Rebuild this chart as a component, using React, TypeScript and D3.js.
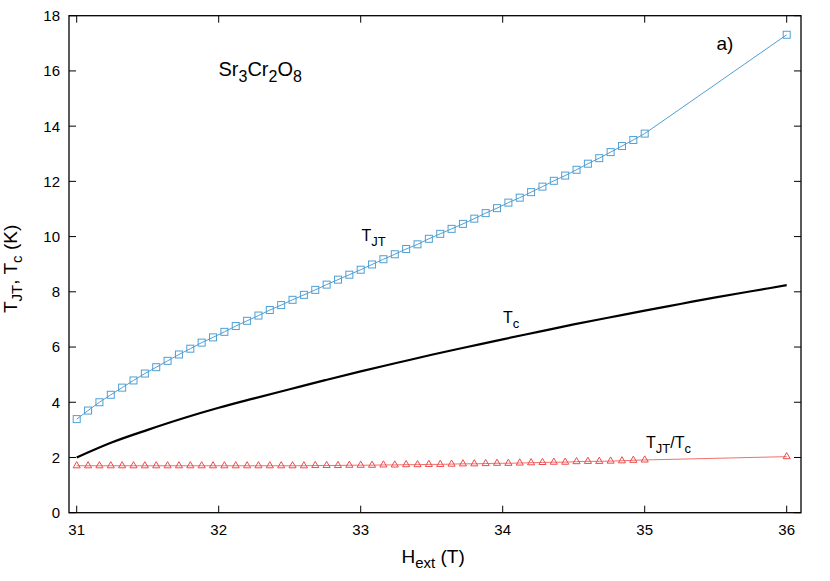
import React from "react";
import * as d3 from "d3";

// H values (T) for the dense sampled points: 31 to 35 step 0.08, plus 36
const hDense: number[] = Array.from({ length: 51 }, (_, i) => +(31 + 0.08 * i).toFixed(2));
const hValues: number[] = [...hDense, 36];

// T_JT (K)
const tjtValues: number[] = [
  3.39, 3.70, 4.00, 4.27, 4.53, 4.79, 5.04, 5.27, 5.50, 5.73,
  5.94, 6.16, 6.35, 6.55, 6.76, 6.95, 7.14, 7.34, 7.52, 7.71,
  7.89, 8.07, 8.26, 8.44, 8.62, 8.80, 8.99, 9.18, 9.36, 9.55,
  9.72, 9.92, 10.10, 10.28, 10.46, 10.65, 10.85, 11.03, 11.23, 11.41,
  11.61, 11.81, 12.02, 12.21, 12.42, 12.64, 12.84, 13.06, 13.28, 13.50,
  13.73, 17.31,
];

// T_JT / T_c
const ratioValues: number[] = [
  1.70, 1.70, 1.70, 1.70, 1.70, 1.70, 1.70, 1.70, 1.70, 1.70,
  1.70, 1.70, 1.70, 1.70, 1.70, 1.70, 1.70, 1.70, 1.70, 1.70,
  1.70, 1.71, 1.71, 1.71, 1.72, 1.72, 1.72, 1.73, 1.73, 1.74,
  1.74, 1.75, 1.75, 1.76, 1.77, 1.77, 1.78, 1.79, 1.79, 1.80,
  1.81, 1.82, 1.83, 1.83, 1.85, 1.86, 1.86, 1.87, 1.88, 1.90,
  1.91, 2.03,
];

// T_c curve (K)
const tcH: number[] = [31, 31.25, 31.5, 31.75, 32, 32.25, 32.5, 32.75, 33, 33.25, 33.5, 33.75, 34, 34.25, 34.5, 34.75, 35, 35.25, 35.5, 35.75, 36];
const tcValues: number[] = [2.0, 2.55, 3.0, 3.42, 3.8, 4.14, 4.47, 4.8, 5.12, 5.42, 5.72, 6.0, 6.28, 6.55, 6.82, 7.07, 7.32, 7.56, 7.8, 8.02, 8.24];

const xTicks: number[] = [31, 32, 33, 34, 35, 36];
const yTicks: number[] = [0, 2, 4, 6, 8, 10, 12, 14, 16, 18];

const W = 830;
const H = 581;
const plotLeft = 69;
const plotRight = 801;
const plotTop = 15.7;
const plotBottom = 512.7;

const BLUE = "#4f9fd4";
const RED = "#ee4a4a";
const FONT = "'Liberation Sans', Arial, Helvetica, sans-serif";

export default function App() {
  const x = d3.scaleLinear().domain([31, 36]).range([76.7, 786.7]);
  const y = d3.scaleLinear().domain([0, 18]).range([plotBottom, plotTop]);

  const lineGen = d3
    .line<[number, number]>()
    .x((d) => x(d[0]))
    .y((d) => y(d[1]));
  const smoothGen = d3
    .line<[number, number]>()
    .x((d) => x(d[0]))
    .y((d) => y(d[1]))
    .curve(d3.curveMonotoneX);

  const tjtPts: [number, number][] = hValues.map((h, i) => [h, tjtValues[i]]);
  const ratioPts: [number, number][] = hValues.map((h, i) => [h, ratioValues[i]]);
  const tcPts: [number, number][] = tcH.map((h, i) => [h, tcValues[i]]);

  const sq = 7;
  const tri = d3.symbol().type(d3.symbolTriangle).size(22)();

  const tickLen = 7;

  return (
    <svg
      width={W}
      height={H}
      style={{ position: "absolute", left: 0, top: 0, background: "#fff" }}
      fontFamily={FONT}
    >
      <rect x={0} y={0} width={W} height={H} fill="#fff" />
      {/* ticks */}
      {xTicks.map((t) => (
        <g key={"xt" + t}>
          <line x1={x(t)} x2={x(t)} y1={plotBottom} y2={plotBottom - tickLen} stroke="#000" strokeWidth={1} />
          <line x1={x(t)} x2={x(t)} y1={plotTop} y2={plotTop + tickLen} stroke="#000" strokeWidth={1} />
          <text x={x(t)} y={534.5} fontSize={15} textAnchor="middle" fill="#000">
            {t}
          </text>
        </g>
      ))}
      {yTicks.map((t) => (
        <g key={"yt" + t}>
          <line x1={plotLeft} x2={plotLeft + tickLen} y1={y(t)} y2={y(t)} stroke="#000" strokeWidth={1} />
          <line x1={plotRight} x2={plotRight - tickLen} y1={y(t)} y2={y(t)} stroke="#000" strokeWidth={1} />
          <text x={60} y={y(t)} dy="0.36em" fontSize={15} textAnchor="end" fill="#000">
            {t}
          </text>
        </g>
      ))}
      {/* frame */}
      <rect
        x={plotLeft}
        y={plotTop}
        width={plotRight - plotLeft}
        height={plotBottom - plotTop}
        fill="none"
        stroke="#000"
        strokeWidth={1.3}
      />

      {/* T_JT series */}
      <path d={lineGen(tjtPts) || ""} fill="none" stroke={BLUE} strokeWidth={1} />
      {tjtPts.map((p, i) => (
        <rect
          key={"sq" + i}
          x={x(p[0]) - sq / 2}
          y={y(p[1]) - sq / 2}
          width={sq}
          height={sq}
          fill="none"
          stroke={BLUE}
          strokeWidth={1}
        />
      ))}

      {/* T_c curve */}
      <path d={smoothGen(tcPts) || ""} fill="none" stroke="#000" strokeWidth={2.2} />

      {/* ratio series */}
      <path d={lineGen(ratioPts) || ""} fill="none" stroke={RED} strokeWidth={0.8} />
      {ratioPts.map((p, i) => (
        <path
          key={"tr" + i}
          d={tri || ""}
          transform={`translate(${x(p[0])},${y(p[1])})`}
          fill="none"
          stroke={RED}
          strokeWidth={1}
        />
      ))}

      {/* annotations */}
      <text x={218.5} y={75.7} fontSize={20} fill="#000">
        Sr<tspan fontSize={16} dy={6}>3</tspan>
        <tspan dy={-6}>Cr</tspan>
        <tspan fontSize={16} dy={6}>2</tspan>
        <tspan dy={-6}>O</tspan>
        <tspan fontSize={16} dy={6}>8</tspan>
      </text>
      <text x={716.5} y={50} fontSize={19} fill="#000">
        a)
      </text>
      <text x={361.5} y={240.7} fontSize={16} fill="#000">
        T<tspan fontSize={13} dy={5}>JT</tspan>
      </text>
      <text x={503} y={323.3} fontSize={16} fill="#000">
        T<tspan fontSize={13} dy={5}>c</tspan>
      </text>
      <text x={646} y={447.7} fontSize={16} fill="#000">
        T<tspan fontSize={13} dy={5}>JT</tspan>
        <tspan dy={-5}>/T</tspan>
        <tspan fontSize={13} dy={5}>c</tspan>
      </text>

      {/* axis titles */}
      <text x={401.5} y={563} fontSize={19} fill="#000">
        H<tspan fontSize={15} dy={5}>ext</tspan>
        <tspan dy={-5}> (T)</tspan>
      </text>
      <text transform="translate(16.5,313) rotate(-90)" x={0} y={0} fontSize={19} fill="#000">
        T<tspan fontSize={15} dy={5}>JT</tspan>
        <tspan dy={-5}>, T</tspan>
        <tspan fontSize={15} dy={5}>c</tspan>
        <tspan dy={-5}> (K)</tspan>
      </text>
    </svg>
  );
}
